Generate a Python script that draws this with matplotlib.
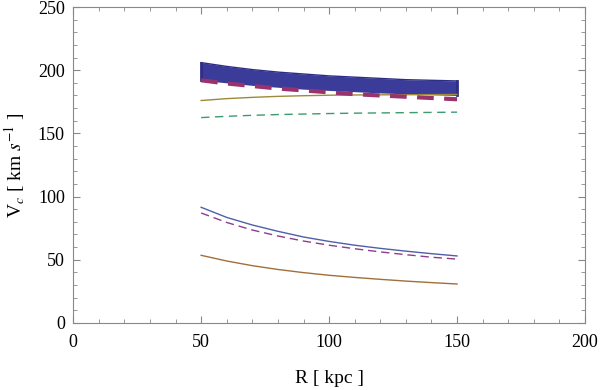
import numpy as np
import matplotlib.pyplot as plt
from matplotlib.ticker import MultipleLocator

# radii [kpc]
r = [50, 60, 70, 80, 90, 100, 110, 120, 130, 140, 150]

# shaded band (upper / lower edge)
band_hi = [206, 203, 200.5, 198.5, 197, 195.5, 194.5, 193.5, 192.5, 192, 191.5]
band_lo = [192, 190, 188, 186.5, 185, 184, 183, 182, 181.3, 180.6, 180]

# thick dashed total
v_total = [192, 189.5, 187.5, 185.5, 184, 182.5, 181, 180, 179, 178, 177]
# olive solid
v_olive = [176, 177.5, 178.5, 179.3, 179.8, 180.2, 180.4, 180.5, 180.6, 180.7, 180.8]
# green dashed
v_green = [162.5, 163.5, 164.3, 164.9, 165.3, 165.7, 166, 166.2, 166.4, 166.6, 166.8]
# lower curves
v_blue = [91.5, 83.5, 77.5, 72.5, 68, 64.5, 61.5, 59, 56.8, 54.8, 53]
v_mag = [87, 79.5, 73.5, 68.8, 64.8, 61.5, 58.7, 56.2, 54, 52, 50.5]
v_brown = [53.5, 49, 45.3, 42.3, 39.8, 37.7, 36, 34.5, 33.1, 31.9, 30.8]

plt.rcParams['font.family'] = ['Liberation Serif', 'DejaVu Serif']
plt.rcParams['mathtext.fontset'] = 'stix'

fig = plt.figure(figsize=(6, 3.9), dpi=100)
ax = fig.add_axes([0.122, 0.172, 0.853, 0.81])

ax.fill_between(r, band_lo, band_hi, color='#3b3b9a', lw=0)
ax.plot([r[0], r[0]], [band_lo[0], band_hi[0]], color='#2e2e85', lw=2)
ax.plot([r[-1], r[-1]], [band_lo[-1], band_hi[-1]], color='#2e2e85', lw=2)
ax.plot(r, band_hi, color='#2e2e85', lw=1)

ax.plot(r, v_olive, color='#9c8a3a', lw=1)
ax.plot(r, v_total, color='#99336e', lw=3, dashes=(4, 2.5))
ax.plot(r, v_green, color='#3d9a6e', lw=1, dashes=(6, 4))
ax.plot(r, v_blue, color='#4f5fa8', lw=1)
ax.plot(r, v_mag, color='#8e3c8e', lw=1, dashes=(6, 3.5))
ax.plot(r, v_brown, color='#a0703a', lw=1)

ax.set_xlim(0, 200)
ax.set_ylim(0, 250)
ax.xaxis.set_major_locator(MultipleLocator(50))
ax.xaxis.set_minor_locator(MultipleLocator(10))
ax.yaxis.set_major_locator(MultipleLocator(50))
ax.yaxis.set_minor_locator(MultipleLocator(10))
ax.tick_params(which='both', direction='in', top=True, right=True,
               color='#888888', labelsize=13)
ax.tick_params(axis='x', pad=8)
ax.tick_params(axis='y', pad=6)
ax.tick_params(which='major', length=5)
ax.tick_params(which='minor', length=3)
for s in ax.spines.values():
    s.set_color('#888888')
    s.set_linewidth(0.8)

ax.set_xlabel('R [ kpc ]', fontsize=14, labelpad=14)
ax.set_ylabel(r'V$_c$ [ km $s^{-1}$ ]', fontsize=14, labelpad=8)

fig.savefig('out.png', dpi=100)
